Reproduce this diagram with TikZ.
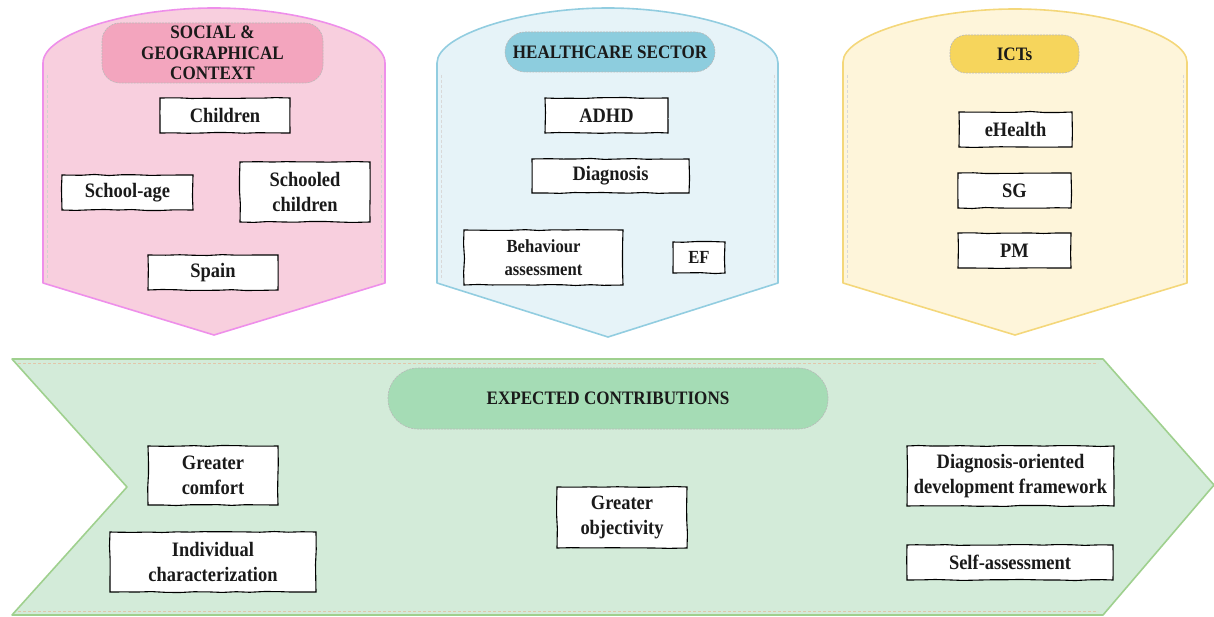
\documentclass[tikz,border=0pt]{standalone}
\usepackage{fontspec}
\setmainfont{Liberation Serif}
\newfontfamily\boxfont[FakeStretch=0.9]{Liberation Serif}
\usetikzlibrary{decorations.pathmorphing}

\definecolor{pinkfill}{HTML}{F8CFDE}
\definecolor{pinkline}{HTML}{EE8FEA}
\definecolor{pinkpill}{HTML}{F3A5BE}
\definecolor{bluefill}{HTML}{E6F3F8}
\definecolor{blueline}{HTML}{92CDE0}
\definecolor{bluepill}{HTML}{8DCDDE}
\definecolor{yellowfill}{HTML}{FEF5DA}
\definecolor{yellowline}{HTML}{F4D77A}
\definecolor{yellowpill}{HTML}{F6D55C}
\definecolor{greenfill}{HTML}{D3EBD9}
\definecolor{greenline}{HTML}{9FD08E}
\definecolor{greenpill}{HTML}{A5DCB5}
\definecolor{inktext}{HTML}{1A1A1A}

\tikzset{
  panel/.style={line width=1.6pt, line join=round},
  seam/.style={draw=#1, line width=0.9pt, dash pattern=on 3pt off 2pt},
  pill/.style={draw=gray!55, dash pattern=on 2pt off 1pt, line width=0.6pt,
    inner sep=0pt, align=center, text=inktext,
    font=\boxfont\fontsize{19}{20.5}\selectfont\bfseries},
  itembox/.style={draw=black, fill=white, line width=1.1pt, inner sep=0pt,
    align=center, text=inktext,
    font=\boxfont\fontsize{20.5}{24.5}\selectfont\bfseries,
    decorate, decoration={random steps, segment length=14pt, amplitude=0.55pt}},
}

\begin{document}
\pgfmathsetseed{7}
\begin{tikzpicture}[x=1pt, y=-1pt]
\useasboundingbox (0,0) rectangle (1214,617);

% ---------- social & geographical context ----------
\draw[panel, draw=pinkline, fill=pinkfill]
  (43,283) -- (43,63) .. controls (43,34) and (128,8) .. (214,8)
  .. controls (300,8) and (385,34) .. (385,63) -- (385,283) -- (214,335) -- cycle;
\draw[seam=gray!35] (47,75) -- (47,280);
\draw[seam=gray!35] (381,75) -- (381,280);
\node[pill, fill=pinkpill, rounded corners=18pt, minimum width=221pt, minimum height=60pt]
  (socialhead) at (212.5,53) {SOCIAL \&\\ GEOGRAPHICAL\\ CONTEXT};
\node[itembox, minimum width=130pt, minimum height=35pt] (children) at (225,115.5) {Children};
\node[itembox, minimum width=131pt, minimum height=35pt] (schoolage) at (127.5,192.5) {School-age};
\node[itembox, minimum width=130pt, minimum height=60pt] (schooled) at (305,192) {Schooled\\children};
\node[itembox, minimum width=130pt, minimum height=35pt] (spain) at (213,272.5) {Spain};

% ---------- healthcare sector ----------
\draw[panel, draw=blueline, fill=bluefill]
  (437,283) -- (437,63) .. controls (437,35) and (522,8) .. (608,8)
  .. controls (694,8) and (778,35) .. (778,63) -- (778,283) -- (608,337) -- cycle;
\draw[seam=gray!30] (441,75) -- (441,280);
\draw[seam=gray!30] (774,75) -- (774,280);
\node[pill, fill=bluepill, rounded corners=20pt, minimum width=210pt, minimum height=40pt]
  (healthhead) at (610,52) {HEALTHCARE SECTOR};
\node[itembox, minimum width=123pt, minimum height=35pt] (adhd) at (606.5,115.5) {ADHD};
\node[itembox, minimum width=157pt, minimum height=34pt] (diagnosis) at (610.5,176) {Diagnosis};
\node[itembox, minimum width=159pt, minimum height=55pt,
  font=\boxfont\fontsize{18.5}{23}\selectfont\bfseries] (behaviour) at (543.5,257.5) {Behaviour\\assessment};
\node[itembox, minimum width=52pt, minimum height=31pt,
  font=\boxfont\fontsize{18.5}{22}\selectfont\bfseries] (ef) at (699,257.5) {EF};

% ---------- ICTs ----------
\draw[panel, draw=yellowline, fill=yellowfill]
  (843,283) -- (843,62) .. controls (843,35) and (929,9) .. (1015,9)
  .. controls (1101,9) and (1187,35) .. (1187,62) -- (1187,283) -- (1015,335) -- cycle;
\draw[seam=gray!30] (847,75) -- (847,280);
\draw[seam=gray!30] (1183,75) -- (1183,280);
\node[pill, fill=yellowpill, rounded corners=16pt, minimum width=129pt, minimum height=38pt]
  (ictshead) at (1014.5,54) {ICTs};
\node[itembox, minimum width=113pt, minimum height=35pt] (ehealth) at (1015.5,129.5) {eHealth};
\node[itembox, minimum width=113pt, minimum height=35pt] (sg) at (1014.5,190.5) {SG};
\node[itembox, minimum width=113pt, minimum height=35pt] (pm) at (1014.5,250.5) {PM};

% ---------- expected contributions ----------
\draw[panel, draw=greenline, fill=greenfill]
  (12,359) -- (1103,359) -- (1214,485) -- (1103,615) -- (12,615) -- (127,487) -- cycle;
\draw[seam=brown!45, line width=1pt] (18,363) -- (1098,363);
\draw[seam=brown!45, line width=1pt] (18,611) -- (1098,611);
\node[pill, fill=greenpill, rounded corners=30pt, minimum width=440pt, minimum height=61pt]
  (contribhead) at (608,398.5) {EXPECTED CONTRIBUTIONS};
\node[itembox, minimum width=130pt, minimum height=59pt] (comfort) at (213,475.5) {Greater\\comfort};
\node[itembox, minimum width=206pt, minimum height=60pt] (individual) at (213,562) {Individual\\characterization};
\node[itembox, minimum width=130pt, minimum height=61pt] (objectivity) at (622,517.5) {Greater\\objectivity};
\node[itembox, minimum width=207pt, minimum height=60pt] (framework) at (1010.5,476) {Diagnosis-oriented\\development framework};
\node[itembox, minimum width=206pt, minimum height=35pt] (selfassess) at (1010,562.5) {Self-assessment};
\end{tikzpicture}
\end{document}
